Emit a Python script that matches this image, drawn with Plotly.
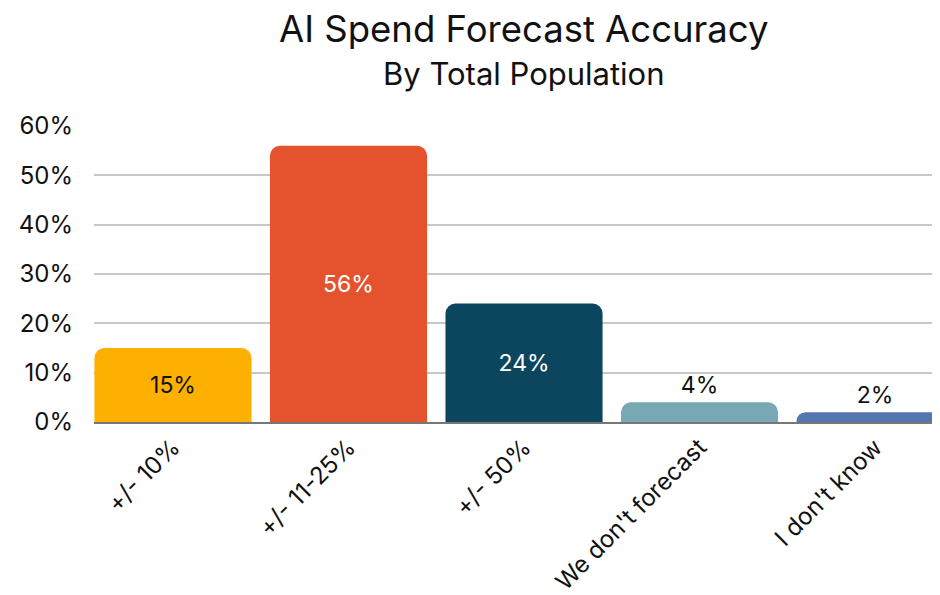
import plotly.graph_objects as go

# data
categories = ["+/- 10%", "+/- 11-25%", "+/- 50%", "We don't forecast", "I don't know"]
shares = [15, 56, 24, 4, 2]
bar_colors = ["#FEB000", "#E4532E", "#0C465E", "#77A8B4", "#5676B0"]
label_colors = ["#111111", "#FFFFFF", "#FFFFFF", "#111111", "#111111"]
label_positions = ["inside", "inside", "inside", "outside", "outside"]
y_ticks = [0, 10, 20, 30, 40, 50, 60]

FONT = "Inter, Roboto, sans-serif"

# the page has an 8px body margin, so the figure is 8px smaller each way
W, H = 932, 587
PLOT_TOP, PLOT_BOTTOM = 118, 414
TITLE_X = 0.508  # titles sit a little right of the plot-area centre

fig = go.Figure(
    go.Bar(
        x=categories,
        y=shares,
        marker=dict(color=bar_colors, line=dict(width=0)),
        text=[f"{v}%" for v in shares],
        textposition=label_positions,
        insidetextanchor="middle",
        textfont=dict(family=FONT, size=23, color=label_colors),
        outsidetextfont=dict(family=FONT, size=23, color="#111111"),
        constraintext="none",
        cliponaxis=False,
    )
)

fig.update_layout(
    width=W,
    height=H,
    margin=dict(l=86, r=0, t=PLOT_TOP, b=H - PLOT_BOTTOM),
    paper_bgcolor="white",
    plot_bgcolor="white",
    font=dict(family=FONT, color="#111111"),
    bargap=0.105,
    barcornerradius=10,
    showlegend=False,
    title=dict(
        text="AI Spend Forecast Accuracy",
        x=TITLE_X, xref="paper", xanchor="center",
        y=1 - 21 / H, yref="container", yanchor="middle",
        font=dict(family=FONT, size=36.5, color="#111111"),
    ),
    annotations=[
        dict(
            text="By Total Population",
            x=TITLE_X, xref="paper", xanchor="center",
            y=(PLOT_BOTTOM - 65) / (PLOT_BOTTOM - PLOT_TOP), yref="paper", yanchor="middle",
            showarrow=False,
            font=dict(family=FONT, size=31, color="#111111"),
        )
    ],
)

fig.update_xaxes(
    range=[-0.45, 4.37],
    tickangle=-45,
    tickfont=dict(family=FONT, size=24, color="#111111"),
    showgrid=False,
    showline=True,
    linecolor="#777777",
    linewidth=1.5,
    ticks="",
    automargin=False,
)

fig.update_yaxes(
    range=[0, 60],
    tickvals=y_ticks,
    ticktext=[f"{v}%" for v in y_ticks],
    tickfont=dict(family=FONT, size=24, color="#111111"),
    showgrid=True,
    gridcolor="#C8C8C8",
    gridwidth=1.5,
    zeroline=False,
    ticklabelstandoff=20,
)

fig.write_html("out.html")
